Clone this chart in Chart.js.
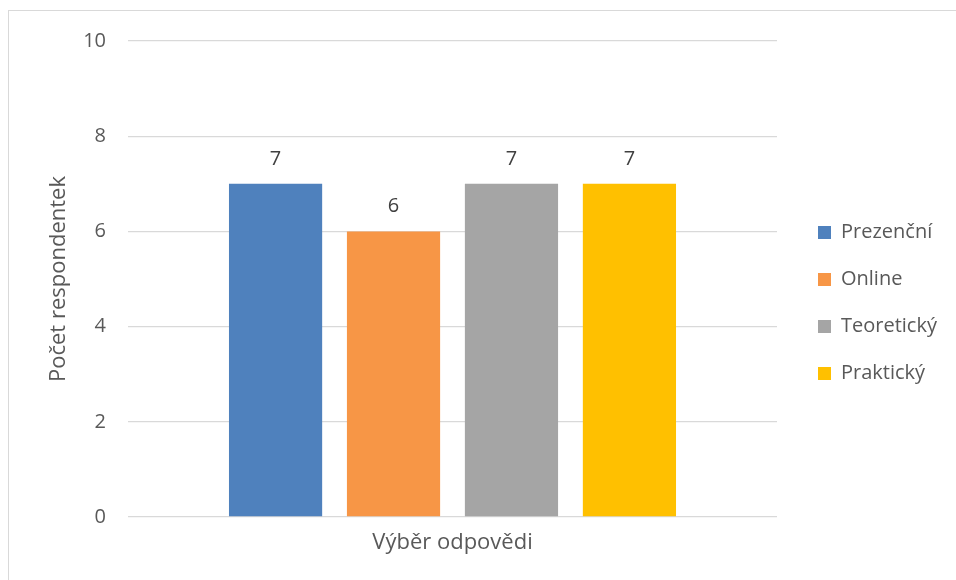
<!DOCTYPE html>
<html>
<head>
<meta charset="utf-8">
<script src="https://cdn.jsdelivr.net/npm/chart.js@4"></script>
<style>
  html, body { margin: 0; padding: 0; background: #fff; }
  #frame { position: absolute; left: 8px; top: 10px; width: 960px; height: 580px;
           border: 1.5px solid #d9d9d9; box-sizing: border-box; }
  #wrap { position: absolute; left: 0; top: 0; width: 956px; height: 580px; }
</style>
</head>
<body>
<div id="frame"></div>
<div id="wrap"><canvas id="c"></canvas></div>
<script>
// Odpovědi respondentek – jedna kategorie, čtyři řady
const categories = ['Výběr odpovědi'];
const seriesNames = ['Prezenční', 'Online', 'Teoretický', 'Praktický'];
const seriesValues = [7, 6, 7, 7];
const seriesColors = ['#4f81bd', '#f79646', '#a5a5a5', '#ffc000'];
const yTicks = [0, 2, 4, 6, 8, 10];

const FONT = '"Open Sans", "Liberation Sans", sans-serif';
const TEXT = '#595959';

// popisky hodnot nad sloupci
const valueLabels = {
  id: 'valueLabels',
  afterDatasetsDraw(chart) {
    const ctx = chart.ctx;
    ctx.save();
    ctx.font = '20px ' + FONT;
    ctx.fillStyle = '#404040';
    ctx.textAlign = 'center';
    ctx.textBaseline = 'middle';
    chart.data.datasets.forEach((ds, i) => {
      const bar = chart.getDatasetMeta(i).data[0];
      ctx.fillText(String(ds.data[0]), bar.x, bar.y - 25);
    });
    ctx.restore();
  }
};

new Chart(document.getElementById('c'), {
  type: 'bar',
  data: {
    labels: categories,
    datasets: seriesNames.map((name, i) => ({
      label: name,
      data: [seriesValues[i]],
      backgroundColor: seriesColors[i],
      barPercentage: 0.79,
      categoryPercentage: 0.727
    }))
  },
  options: {
    responsive: true, maintainAspectRatio: false,
    animation: false,
    layout: { padding: { top: 41, bottom: 15, left: 46, right: 16 } },
    scales: {
      x: {
        ticks: { display: false },
        grid: { display: false },
        border: { display: false },
        title: { display: true, text: 'Výběr odpovědi', color: TEXT,
                 font: { family: FONT, size: 22 }, padding: { top: 0, bottom: 9 } },
        afterFit: s => { s.height = 48; }
      },
      y: {
        min: 0, max: 10,
        afterBuildTicks: s => { s.ticks = yTicks.map(v => ({ value: v })); },
        ticks: { color: TEXT, font: { family: FONT, size: 20 }, padding: 22 },
        grid: { color: '#d9d9d9', lineWidth: 1.3, drawTicks: false },
        border: { display: false },
        title: { display: true, text: 'Počet respondentek', color: TEXT,
                 font: { family: FONT, size: 22 }, padding: 0 },
        afterFit: s => { s.width = 82; }
      },
      // prázdný okraj mezi grafem a legendou
      gap: {
        type: 'linear', position: 'right', display: true,
        ticks: { display: false }, grid: { display: false }, border: { display: false },
        afterFit: s => { s.width = 14; }
      }
    },
    plugins: {
      legend: {
        position: 'right',
        labels: { color: TEXT, font: { family: FONT, size: 20 },
                  boxWidth: 13, boxHeight: 13, padding: 27 }
      },
      tooltip: { enabled: false }
    }
  },
  plugins: [valueLabels]
});
</script>
</body>
</html>
